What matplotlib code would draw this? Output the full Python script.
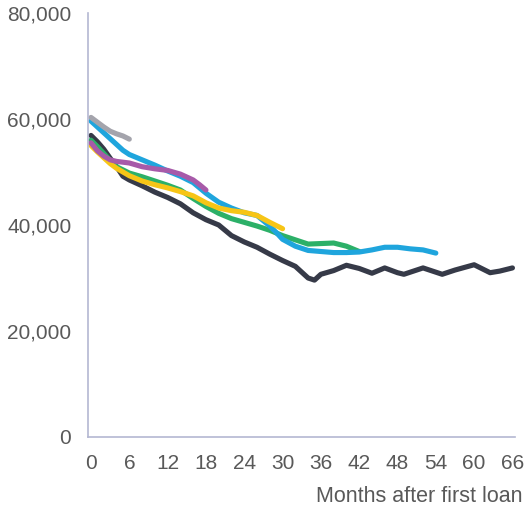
import matplotlib
matplotlib.use("Agg")
import matplotlib.pyplot as plt

plt.rcParams["font.family"] = ["Liberation Sans", "DejaVu Sans"]

# Average balance by months after first loan, one series per cohort
gray_months = [0, 1, 2, 3, 4, 5, 6]
gray_values = [60300, 59400, 58500, 57700, 57200, 56800, 56200]

purple_months = [0, 1, 2, 3, 4, 6, 8, 10, 12, 14, 16, 17, 18]
purple_values = [55500, 54000, 53000, 52300, 52000, 51700, 51000, 50600, 50300,
                 49600, 48500, 47600, 46600]

yellow_months = [0, 1, 2, 3, 4, 6, 8, 10, 12, 14, 16, 18, 20, 22, 24, 26, 28, 30]
yellow_values = [55000, 53800, 52700, 51600, 50700, 49300, 48300, 47600, 47000,
                 46300, 45500, 44200, 43200, 42700, 42400, 41800, 40500, 39300]

green_months = [0, 1, 2, 3, 4, 6, 8, 10, 12, 14, 16, 18, 20, 22, 24, 26, 28, 30,
                32, 34, 36, 38, 40, 42]
green_values = [56000, 54800, 53500, 52200, 51000, 49800, 49100, 48300, 47500,
                46600, 45000, 43500, 42200, 41200, 40500, 39800, 39000, 38000,
                37200, 36400, 36500, 36600, 36000, 35000]

blue_months = [0, 1, 2, 3, 4, 5, 6, 8, 10, 12, 14, 16, 18, 20, 22, 24, 26, 28,
               29, 30, 32, 34, 36, 38, 40, 42, 44, 46, 48, 50, 52, 54]
blue_values = [59600, 58500, 57400, 56300, 55200, 54100, 53300, 52300, 51300,
               50200, 49200, 48000, 46000, 44300, 43200, 42300, 41800, 39800,
               38600, 37300, 36000, 35200, 35000, 34800, 34800, 34900, 35300,
               35800, 35800, 35500, 35300, 34700]

dark_months = [0, 1, 2, 3, 4, 5, 6, 8, 10, 12, 14, 16, 18, 20, 22, 24, 26, 28,
               30, 32, 34, 35, 36, 38, 40, 42, 44, 46, 48, 49, 52, 55, 57, 60,
               62.5, 64, 66]
dark_values = [56900, 55700, 54300, 52600, 51000, 49200, 48500, 47400, 46200,
               45200, 44000, 42300, 41000, 40000, 38000, 36800, 35800, 34500,
               33300, 32200, 30000, 29600, 30700, 31400, 32400, 31800, 30900,
               31900, 31000, 30700, 31900, 30700, 31500, 32500, 31000, 31300,
               31900]

series = [
    (dark_months, dark_values, "#363a48"),
    (green_months, green_values, "#2cb068"),
    (blue_months, blue_values, "#1fa5dd"),
    (yellow_months, yellow_values, "#f7c516"),
    (purple_months, purple_values, "#a75aa9"),
    (gray_months, gray_values, "#a4a4ac"),
]

x_ticks = list(range(0, 67, 6))
y_ticks = [0, 20000, 40000, 60000, 80000]

fig = plt.figure(figsize=(5.26, 5.08), dpi=100)
ax = fig.add_axes([88 / 526, 71 / 508, 427 / 526, 424 / 508])

for months, values, color in series:
    ax.plot(months, values, color=color, linewidth=3.7,
            solid_capstyle="round", solid_joinstyle="round")

ax.set_xlim(-0.47, 66.4)
ax.set_ylim(0, 80000)
ax.set_xticks(x_ticks)
ax.set_yticks(y_ticks)
ax.set_yticklabels([f"{v:,}" for v in y_ticks])

for side in ["top", "right"]:
    ax.spines[side].set_visible(False)
for side in ["left", "bottom"]:
    ax.spines[side].set_color("#b4b7d2")
    ax.spines[side].set_linewidth(1.2)

ax.tick_params(axis="both", length=0, labelsize=15, labelcolor="#595959")
ax.tick_params(axis="y", pad=12)
ax.tick_params(axis="x", pad=12)

fig.text(522 / 526, 11 / 508, "Months after first loan", ha="right",
         va="center", fontsize=15.5, color="#595959")

fig.savefig("out.png", dpi=100)
